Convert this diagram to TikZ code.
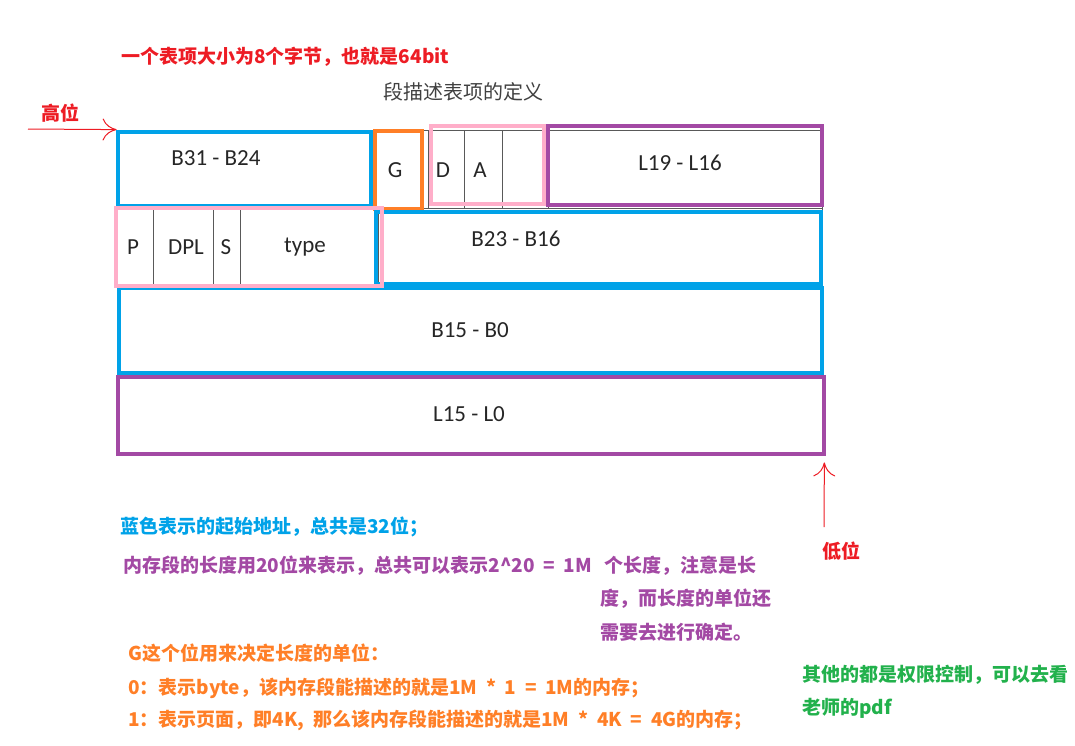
\documentclass[tikz,border=0pt]{standalone}
\usepackage{fontspec}
\setmainfont{Carlito}
\newfontfamily\cjk{Noto Sans CJK SC}[WordSpace=2]
\usetikzlibrary{arrows.meta,positioning,fit}
\definecolor{segblue}{RGB}{0,162,232}
\definecolor{segorange}{RGB}{255,127,39}
\definecolor{segpink}{RGB}{255,174,201}
\definecolor{segpurple}{RGB}{163,73,164}
\definecolor{segred}{RGB}{237,28,36}
\definecolor{seggreen}{RGB}{34,177,76}

\begin{document}
\begin{tikzpicture}[
    x=0.5pt, y=-0.5pt,
    cell/.style={draw=black!65, line width=0.5pt},
    frame/.style={line width=2.3pt},
    field/.style={font=\fontsize{11.5}{13}\selectfont, text=black!85, inner sep=0pt},
    note/.style={font=\cjk\bfseries\fontsize{9.5}{12}\selectfont, inner sep=0pt, anchor=west},
    pointer/.style={draw=segred, line width=0.5pt, -{To[length=7pt,width=11pt]}}]

    \useasboundingbox (0,0) rectangle (1075,745);

    % table cells
    \draw[cell] (117,130) rectangle (372,208);
    \draw[cell] (372,130) rectangle (428,208);
    \draw[cell] (428,130) rectangle (464,208);
    \draw[cell] (464,130) rectangle (502,208);
    \draw[cell] (502,130) rectangle (548,208);
    \draw[cell] (548,130) rectangle (822,208);
    \draw[cell] (117,208) rectangle (153,286);
    \draw[cell] (153,208) rectangle (213,286);
    \draw[cell] (213,208) rectangle (240,286);
    \draw[cell] (240,208) rectangle (378,286);
    \draw[cell] (378,208) rectangle (822,286);
    \draw[cell] (117,286) rectangle (822,378);
    \draw[cell] (117,378) rectangle (822,455);

    % coloured groups
    \draw[frame, segblue]   (118,132) rectangle (371,206);
    \draw[frame, segorange] (375,131) rectangle (422,209);
    \draw[frame, segpink]   (431,126) rectangle (544,204);
    \draw[frame, segpurple] (548,126) rectangle (822,205);
    \draw[frame, segblue]   (376,212) rectangle (821,284);
    \draw[frame, segblue]   (119,288) rectangle (822,373);
    \draw[frame, segpink]   (116,208) rectangle (382,286);
    \draw[frame, segpurple] (118,377) rectangle (824,454);

    \node[fit={(117,130) (824,455)}, inner sep=0pt] (desc) {};

    % fields
    \node[field] (b31)  at (216,158) {B31 - B24};
    \node[field] (g)    at (395,170) {G};
    \node[field] (d)    at (443,170) {D};
    \node[field] (a)    at (480,170) {A};
    \node[field] (l19)  at (680,163) {L19 - L16};
    \node[field] (p)    at (133,247) {P};
    \node[field] (dpl)  at (186,247) {DPL};
    \node[field] (s)    at (226,247) {S};
    \node[field] (type) at (305,247) {type};
    \node[field] (b23)  at (516,239) {B23 - B16};
    \node[field] (b15)  at (470,330) {B15 - B0};
    \node[field] (l15)  at (469,414) {L15 - L0};

    % notes
    \node[note, text=segred] (size) at (121,57) {一个表项大小为8个字节，也就是64bit};
    \node[note, font=\cjk\fontsize{10}{12}\selectfont, text=black!75] (title) at (383,92) {段描述表项的定义};
    \node[note, text=segred] (hi) at (41,113) {高位};
    \node[note, text=segred] (lo) at (822,551) {低位};
    \node[note, text=segblue] (base) at (120,527) {蓝色表示的起始地址，总共是32位；};
    \node[note, text=segpurple] (lim1) at (123,566) {内存段的长度用20位来表示，总共可以表示2\textasciicircum 20 = 1M\hspace{2pt} 个长度，注意是长};
    \node[note, text=segpurple] (lim2) at (600,599) {度，而长度的单位还};
    \node[note, text=segpurple] (lim3) at (600,632) {需要去进行确定。};
    \node[note, text=segorange] (gbit) at (128,653) {G这个位用来决定长度的单位：};
    \node[note, text=segorange] (g0)   at (128,688) {0：表示byte，该内存段能描述的就是1M * 1 = 1M的内存；};
    \node[note, text=segorange] (g1)   at (128,720) {1：表示页面，即4K, 那么该内存段能描述的就是1M * 4K = 4G的内存；};
    \node[note, text=seggreen] (rest1) at (802,675) {其他的都是权限控制，可以去看};
    \node[note, text=seggreen] (rest2) at (802,708) {老师的pdf};

    % pointers
    \coordinate (hitail) at (28,129);
    \coordinate (lotail) at (824,527);
    \draw[pointer] (hitail) -- (desc.north west);
    \draw[pointer, shorten >=3.5pt] (lotail) -- (desc.south east);
\end{tikzpicture}
\end{document}
